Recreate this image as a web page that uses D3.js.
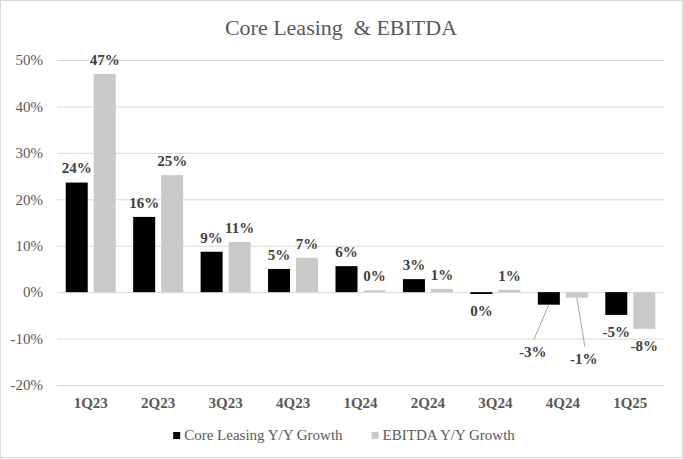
<!DOCTYPE html>
<html>
<head>
<meta charset="utf-8">
<script src="https://cdn.jsdelivr.net/npm/d3@7"></script>
<style>
  body { margin: 0; background: #fff; }
  svg text { font-family: "Liberation Serif", "Times New Roman", serif !important; }
</style>
</head>
<body>
<svg id="chart" width="683" height="459"></svg>
<script>
const quarters = ["1Q23", "2Q23", "3Q23", "4Q23", "1Q24", "2Q24", "3Q24", "4Q24", "1Q25"];
const coreLeasing = [23.6, 16.2, 8.7, 5.0, 5.6, 2.8, -0.4, -2.7, -4.9];
const ebitda = [47.0, 25.2, 10.8, 7.4, 0.4, 0.7, 0.5, -1.2, -7.9];
const seriesNames = ["Core Leasing Y/Y Growth", "EBITDA Y/Y Growth"];
const yTicks = [-20, -10, 0, 10, 20, 30, 40, 50];

const width = 683, height = 459;
const colors = ["#000000", "#c9c9c9"];
const svg = d3.select("#chart");

// chart border
svg.append("rect")
    .attr("x", 0.5).attr("y", 0.5)
    .attr("width", width - 1).attr("height", height - 2)
    .attr("fill", "#fff").attr("stroke", "#d9d9d9");

svg.append("text")
    .attr("x", 341).attr("y", 35)
    .attr("text-anchor", "middle")
    .attr("font-size", 22)
    .attr("fill", "#595959")
    .style("white-space", "pre")
    .text("Core Leasing  & EBITDA");

const x0 = d3.scaleBand().domain(quarters).range([57, 664])
    .paddingInner(0.2586).paddingOuter(0.1293);
const x1 = d3.scaleBand().domain(seriesNames).range([0, x0.bandwidth()])
    .paddingInner(0.214);
const y = d3.scaleLinear().domain([-20, 50]).range([385, 60]);

// gridlines + tick labels
const yAxis = svg.append("g").attr("transform", "translate(57,0)")
    .call(d3.axisLeft(y).tickValues(yTicks).tickSize(-(664 - 57)).tickPadding(14)
        .tickFormat(d => d + "%"));
yAxis.attr("font-family", null);
yAxis.select(".domain").remove();
yAxis.selectAll(".tick line").attr("stroke", "#d9d9d9");
yAxis.selectAll(".tick text")
    .attr("font-size", 15).attr("fill", "#595959");

const rows = quarters.map((q, i) => ({ q, vals: [coreLeasing[i], ebitda[i]] }));

// manually moved labels (with leader lines)
const moved = { "4Q24": [[-16, 47], [7, 61]] };

const groups = svg.append("g").selectAll("g").data(rows).enter().append("g")
    .attr("transform", d => `translate(${x0(d.q)},0)`);

groups.selectAll("rect")
    .data(d => d.vals.map((v, k) => ({ v, k, q: d.q })))
    .enter().append("rect")
    .attr("x", d => x1(seriesNames[d.k]))
    .attr("width", x1.bandwidth())
    .attr("y", d => y(Math.max(0, d.v)))
    .attr("height", d => Math.abs(y(d.v) - y(0)))
    .attr("fill", d => colors[d.k]);

const labels = svg.append("g");
rows.forEach(r => {
    r.vals.forEach((v, k) => {
        const cx = x0(r.q) + x1(seriesNames[k]) + x1.bandwidth() / 2;
        const end = y(v);
        let lx = cx, ly = v >= 0 ? end - 14.5 : end + 17;
        const off = moved[r.q] && moved[r.q][k];
        if (off) {
            lx = cx + off[0];
            ly = end + off[1];
            labels.append("line")
                .attr("x1", cx).attr("y1", end)
                .attr("x2", lx + 1).attr("y2", ly - 12)
                .attr("stroke", "#a6a6a6").attr("stroke-width", 1);
        }
        labels.append("text")
            .attr("x", lx).attr("y", ly).attr("dy", "0.35em")
            .attr("text-anchor", "middle")
            .attr("font-size", 15).attr("font-weight", "bold")
            .attr("fill", "#404040")
            .text(Math.round(v) + "%");
    });
});

// category labels
svg.append("g").selectAll("text").data(quarters).enter().append("text")
    .attr("x", d => x0(d) + x0.bandwidth() / 2)
    .attr("y", 403).attr("dy", "0.35em")
    .attr("text-anchor", "middle")
    .attr("font-size", 15).attr("font-weight", "bold")
    .attr("fill", "#595959")
    .text(d => d);

// legend
const legend = svg.append("g");
let cursor = 0;
seriesNames.forEach((name, k) => {
    const item = legend.append("g").attr("transform", `translate(${cursor},0)`);
    item.append("rect").attr("x", 0).attr("y", 432).attr("width", 7).attr("height", 7)
        .attr("fill", colors[k]);
    const t = item.append("text").attr("x", 11).attr("y", 435).attr("dy", "0.35em")
        .attr("font-size", 15).attr("fill", "#595959").text(name);
    cursor += 11 + t.node().getComputedTextLength() + 29;
});
const legendWidth = cursor - 29;
legend.attr("transform", `translate(${344 - legendWidth / 2},0)`);
</script>
</body>
</html>
